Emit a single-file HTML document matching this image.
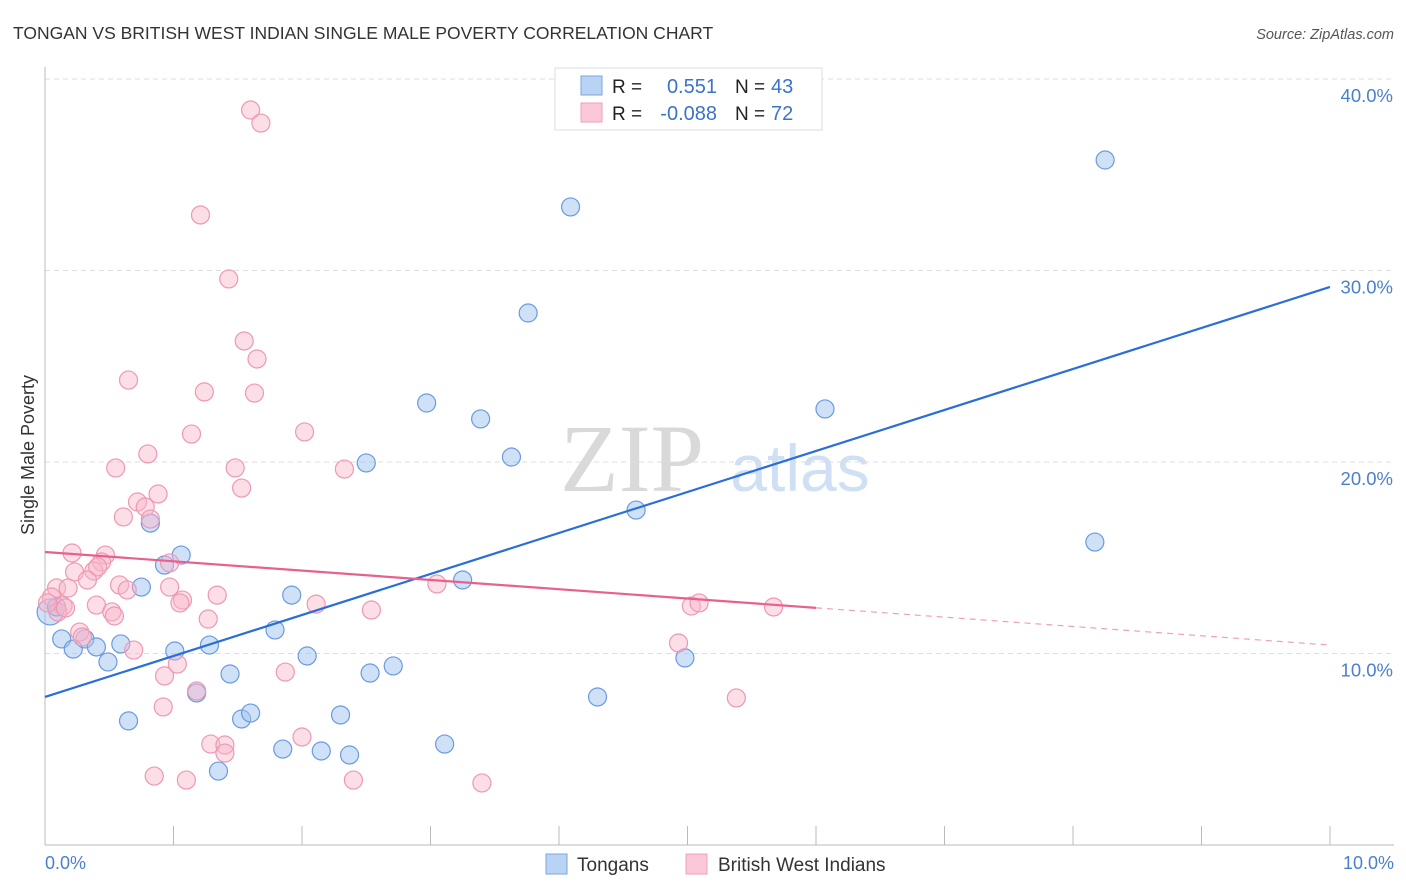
<!DOCTYPE html>
<html><head><meta charset="utf-8"><style>
body{margin:0;background:#fff;font-family:"Liberation Sans",sans-serif}
svg{display:block}
</style></head><body>
<svg id="c" width="1406" height="892" xmlns="http://www.w3.org/2000/svg">
<text x="13" y="39" font-size="17.5" fill="#333">TONGAN VS BRITISH WEST INDIAN SINGLE MALE POVERTY CORRELATION CHART</text>
<text x="1394" y="39" font-size="14.5" fill="#555" font-style="italic" text-anchor="end">Source: ZipAtlas.com</text>
<text x="632" y="491" font-size="96" fill="#d9d9d9" font-family="Liberation Serif,serif" text-anchor="middle">ZIP</text>
<text x="800" y="491" font-size="66" fill="#cfe0f4" text-anchor="middle">atlas</text>
<g id="grid"></g>
<g id="axes"></g>
<g id="pts"></g>
<g id="lines"></g>
<text transform="translate(34,455) rotate(-90)" font-size="18" fill="#333" text-anchor="middle">Single Male Poverty</text>
<text x="45" y="869" font-size="18" fill="#4a7fd0">0.0%</text>
<text x="1394" y="869" font-size="18" fill="#4a7fd0" text-anchor="end">10.0%</text>
<g>
<rect x="555" y="68" width="267" height="62" fill="#fff" stroke="#ddd"/>
<rect x="581" y="76" width="21" height="19" fill="#b9d3f5" stroke="#7aa7e2"/>
<rect x="581" y="103" width="21" height="19" fill="#fac8d8" stroke="#f0a0bb"/>
<text x="612" y="93" font-size="19" fill="#222">R =</text>
<text x="717" y="93" font-size="20" fill="#3a72cc" text-anchor="end">0.551</text>
<text x="735" y="93" font-size="19" fill="#222">N =</text>
<text x="771" y="93" font-size="20" fill="#3a72cc">43</text>
<text x="612" y="120" font-size="19" fill="#222">R =</text>
<text x="717" y="120" font-size="20" fill="#3a72cc" text-anchor="end">-0.088</text>
<text x="735" y="120" font-size="19" fill="#222">N =</text>
<text x="771" y="120" font-size="20" fill="#3a72cc">72</text>
</g>
<g>
<rect x="546" y="854" width="21" height="20" fill="#b9d3f5" stroke="#7aa7e2"/>
<text x="577" y="871" font-size="19" fill="#333">Tongans</text>
<rect x="686" y="854" width="21" height="20" fill="#fac8d8" stroke="#f0a0bb"/>
<text x="718" y="871" font-size="19" fill="#333">British West Indians</text>
</g>
</svg>
<script>
const yTicks=[10,20,30,40];
const yTickLabels=["10.0%","20.0%","30.0%","40.0%"];
const xTicks=[0,1,2,3,4,5,6,7,8,9,10];
const blueX=[.04,.13,.22,.31,.40,.49,.59,.65,.75,.82,.93,1.01,1.06,1.18,1.28,1.35,1.44,1.53,1.60,1.79,1.85,1.92,2.04,2.15,2.30,2.37,2.50,2.53,2.71,2.97,3.11,3.25,3.39,3.63,3.76,4.09,4.30,4.60,4.98,6.07,8.17,8.25,.09];
const blueY=[12.17,10.76,10.23,10.76,10.34,9.56,10.50,6.48,13.47,16.81,14.62,10.13,15.14,7.94,10.44,3.86,8.93,6.58,6.89,11.23,5.01,13.05,9.87,4.91,6.79,4.70,19.95,8.98,9.35,23.08,5.27,13.84,22.25,20.26,27.78,33.32,7.73,17.49,9.77,22.77,15.82,35.77,12.43];
const pinkX=[1.60,1.68,1.21,1.43,1.55,1.65,.65,1.24,1.63,1.14,2.02,.80,.55,1.48,2.33,1.53,.88,.72,.78,.82,.61,.21,.47,.44,.23,.38,.41,.33,.58,.64,.97,.97,.09,.18,.05,.40,.14,1.07,1.05,1.34,.52,.54,1.27,2.11,2.54,3.05,5.03,5.09,5.67,.27,.29,.69,1.03,.93,1.87,4.93,1.18,.92,1.29,1.40,1.40,2.00,5.38,.85,1.10,2.40,3.40,.10,.16,.02];
const pinkY=[38.38,37.70,32.90,29.56,26.32,25.38,24.28,23.66,23.60,21.46,21.57,20.42,19.69,19.69,19.63,18.64,18.33,17.91,17.65,17.02,17.13,15.25,15.14,14.78,14.26,14.31,14.52,13.84,13.58,13.32,14.73,13.47,13.42,13.42,12.95,12.53,12.48,12.79,12.64,13.05,12.17,11.96,11.80,12.58,12.27,13.63,12.48,12.64,12.43,11.12,10.86,10.18,9.45,8.83,9.03,10.55,8.04,7.21,5.27,5.22,4.80,5.64,7.68,3.60,3.39,3.39,3.24,12.17,12.38,12.64];
const blueTrend=[7.73,29.14];
const pinkTrend=[15.3,10.44];
const pinkSolidEnd=6;
const NS="http://www.w3.org/2000/svg";
const sx=v=>45+v*128.5, sy=v=>845-v*19.15;
function mk(t,a,p){const e=document.createElementNS(NS,t);for(const k in a)e.setAttribute(k,a[k]);p.appendChild(e);return e;}
const grid=document.getElementById('grid'),axes=document.getElementById('axes'),pts=document.getElementById('pts'),lines=document.getElementById('lines');
yTicks.forEach((t,i)=>{
 const g=mk('line',{x1:45,x2:1394,y1:sy(t),y2:sy(t),stroke:'#ddd','stroke-dasharray':'5,4'},grid);
 
 
 const l=mk('text',{x:1393,y:sy(t)+23,'font-size':18.5,fill:'#4a7fd0','text-anchor':'end'},grid);
 l.textContent=yTickLabels[i];
 
 
});
const ya=mk('line',{x1:45,x2:45,y1:67,y2:845,stroke:'#bbb'},axes);


const xa=mk('line',{x1:45,x2:1394,y1:845,y2:845,stroke:'#bbb'},axes);


xTicks.forEach(t=>{
 const k=mk('line',{x1:sx(t),x2:sx(t),y1:826,y2:845,stroke:'#bbb'},axes);
 
 
});
blueX.forEach((x,i)=>{
 const c=mk('circle',{cx:sx(x),cy:sy(blueY[i]),r:i==0?13:9,fill:'rgba(160,196,240,0.5)',stroke:'#6b9ae0','stroke-width':1.2},pts);
 
 
});
pinkX.forEach((x,i)=>{
 const c=mk('circle',{cx:sx(x),cy:sy(pinkY[i]),r:9,fill:'rgba(248,182,202,0.45)',stroke:'#ee98b2','stroke-width':1.2},pts);
 
 
});
const bl=mk('line',{x1:sx(0),y1:sy(blueTrend[0]),x2:sx(10),y2:sy(blueTrend[1]),stroke:'#2a6fd6','stroke-width':2.2},lines);


const pAt=x=>pinkTrend[0]+(pinkTrend[1]-pinkTrend[0])*x/10;
const pl=mk('line',{x1:sx(0),y1:sy(pinkTrend[0]),x2:sx(pinkSolidEnd),y2:sy(pAt(pinkSolidEnd)),stroke:'#e8608e','stroke-width':2.2},lines);


const pd=mk('line',{x1:sx(pinkSolidEnd),y1:sy(pAt(pinkSolidEnd)),x2:sx(10),y2:sy(pinkTrend[1]),stroke:'#eea0bb','stroke-width':1.2,'stroke-dasharray':'6,5'},lines);


</script>
</body></html>
